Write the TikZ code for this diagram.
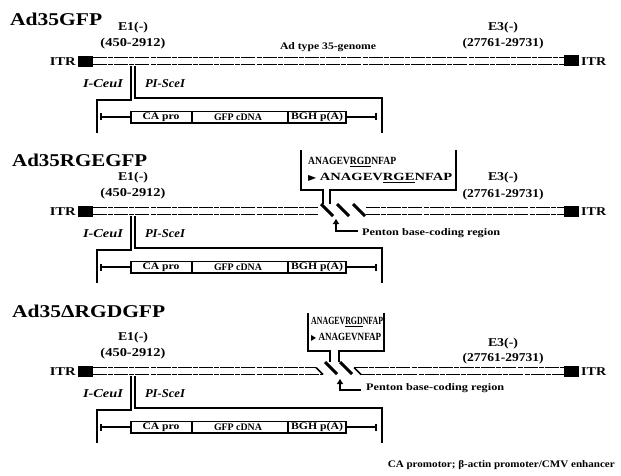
\documentclass[tikz,border=0pt]{standalone}
\usepackage{fontspec}
\usepackage{graphicx}
\setmainfont{Liberation Serif}
\newfontfamily\symf{DejaVu Sans}
\usetikzlibrary{arrows.meta}
\newcommand\fw[2]{\resizebox{#1pt}{\height}{#2}}
\tikzset{
  lbl/.style={inner sep=0pt, font=\bfseries\fontsize{12}{12}\selectfont},
  small/.style={inner sep=0pt, font=\bfseries\fontsize{10}{10}\selectfont},
  ttl/.style={inner sep=0pt, anchor=west, font=\bfseries\fontsize{18}{18}\selectfont},
  enz/.style={inner sep=0pt, font=\bfseries\itshape\fontsize{12}{12}\selectfont},
  castxt/.style={inner sep=0pt, font=\bfseries\fontsize{10}{10}\selectfont},
  seqt/.style={inner sep=0pt, anchor=west, font=\bfseries\fontsize{11}{11}\selectfont},
  gline/.style={line width=1pt, dash pattern=on 14pt off 1.2pt on 5pt off 1pt},
  blk/.style={fill=black, inner sep=0pt, minimum width=15pt, minimum height=11pt},
  wire/.style={line width=1.3pt},
  cas/.style={line width=1.6pt},
  slashl/.style={line width=3pt},
  pen/.style={line width=1.8pt, -{Triangle[width=6pt,length=5pt]}},
}
\newcommand\common[2]{%
\begin{scope}[yshift=-#1pt]
  \node[lbl] (e1#2) at (133,28) {\fw{30}{E1(-)}};
  \node[lbl] (e1n#2) at (133,44) {\fw{65}{(450-2912)}};
  \node[blk] (bl#2) at (85,61.5) {};
  \node[lbl, anchor=east] (itrl#2) at (76,61.5) {\fw{26}{ITR}};
  \node[blk] (br#2) at (571.5,61) {};
  \node[lbl, anchor=west] (itrr#2) at (581,61.5) {\fw{25}{ITR}};
  \draw[wire] (131,66) -- (131,100) -- (97,100) -- (97,133);
  \draw[wire] (135,66) -- (135,98) -- (382,98) -- (382,133);
  \node[enz] (ceu#2) at (103,84) {\fw{40}{I-CeuI}};
  \node[enz] (sce#2) at (165,84) {\fw{40}{PI-SceI}};
  \draw[wire, {Bar[width=7pt,line width=2pt]}-] (100,117) -- (131,117);
  \draw[wire, -{Bar[width=7pt,line width=2pt]}] (346,117) -- (377,117);
  \draw[cas] (131,111.5) rectangle (346,123);
  \draw[cas] (192,111.5) -- (192,123);
  \draw[cas] (288,111.5) -- (288,123);
  \node[castxt] (ca#2) at (161,117.5) {\fw{37}{CA pro}};
  \node[castxt] (gfp#2) at (238,117.5) {\fw{48}{GFP cDNA}};
  \node[castxt] (bgh#2) at (317,117.5) {\fw{52}{BGH p(A)}};
\end{scope}}
\begin{document}
\begin{tikzpicture}[x=1pt,y=-1pt]
\useasboundingbox (0,0) rectangle (621,476);
% ---------- panel 1
\node[ttl] (t1) at (10,19) {\fw{92}{Ad35GFP}};
\common{0}{a}
\node[small] (gen) at (328,47) {\fw{96}{Ad type 35-genome}};
\node[lbl] (e3a) at (503,28) {\fw{30}{E3(-)}};
\node[lbl] (e3na) at (503,44) {\fw{81}{(27761-29731)}};
\draw[gline] (93,57.5) -- (564,57.5);
\draw[gline] (93,64.5) -- (564,64.5);
% ---------- panel 2
\node[ttl] (t2) at (12,160) {\fw{135}{Ad35RGEGFP}};
\common{150}{b}
\node[lbl] (e3b) at (503,178) {\fw{30}{E3(-)}};
\node[lbl] (e3nb) at (503,195) {\fw{81}{(27761-29731)}};
\draw[gline] (93,207.5) -- (318,207.5);
\draw[gline] (93,214.5) -- (318,214.5);
\draw[gline] (366,207.5) -- (564,207.5);
\draw[gline] (366,214.5) -- (564,214.5);
\draw[slashl] (321,204) -- (333,216);
\draw[slashl] (337,204) -- (349,216);
\draw[slashl] (353,204) -- (365,216);
\draw[wire] (301,150) -- (301,190) -- (323,190) -- (323,204);
\draw[wire] (330,204) -- (330,190) -- (456,190) -- (456,150);
\node[seqt] (s1b) at (308,162) {\fw{88}{ANAGEV\underline{RGD}NFAP}};
\node[seqt] (s2b) at (308,178) {\fw{144}{{\symf\fontsize{8}{8}\selectfont ▶} ANAGEV\underline{RGE}NFAP}};
\coordinate (pa) at (358,231);
\draw[pen] (pa) -- (336,231) -- (336,219);
\node[small, anchor=west] (pb) at (362,233) {\fw{138}{Penton base-coding region}};
% ---------- panel 3
\node[ttl] (t3) at (12,311) {\fw{153}{Ad35ΔRGDGFP}};
\common{310}{c}
\node[lbl] (e3c) at (503,344) {\fw{30}{E3(-)}};
\node[lbl] (e3nc) at (503,359) {\fw{81}{(27761-29731)}};
\draw[gline] (93,367.5) -- (316,367.5);
\draw[gline] (93,374.5) -- (323,374.5);
\draw[line width=1.5pt] (316,367.5) -- (323,374.5);
\draw[gline] (354,367.5) -- (564,367.5);
\draw[gline] (361,374.5) -- (564,374.5);
\draw[line width=1.5pt] (354,367.5) -- (361,374.5);
\draw[slashl] (325,362) -- (337,374);
\draw[slashl] (340,362) -- (352,374);
\draw[wire] (308,313) -- (308,351) -- (330,351) -- (330,362);
\draw[wire] (339,362) -- (339,351) -- (384,351) -- (384,313);
\node[seqt] (s1c) at (311,322) {\fw{72}{ANAGEV\underline{RGD}NFAP}};
\node[seqt] (s2c) at (311,337) {\fw{70}{{\symf\fontsize{8}{8}\selectfont ▶} ANAGEVNFAP}};
\coordinate (pc) at (361,390);
\draw[pen] (pc) -- (340,390) -- (340,379);
\node[small, anchor=west] (pd) at (366,388) {\fw{138}{Penton base-coding region}};
% ---------- footnote
\node[small, anchor=east] (foot) at (615,465) {\fw{227}{CA promotor; β-actin promoter/CMV enhancer}};
\end{tikzpicture}
\end{document}
